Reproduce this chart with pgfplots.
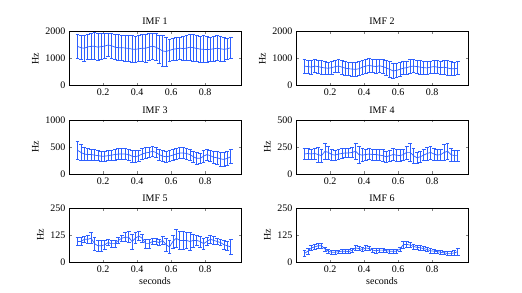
\documentclass[border=0pt]{standalone}
\usepackage{fontspec}
\setmainfont{Liberation Serif}
\usepackage{pgfplots}
\usepackage{pgfplotstable}
\pgfplotsset{compat=1.18}
\definecolor{eb}{RGB}{45,95,255}

\pgfplotstableread{
x m e
0.05 1450 430
0.07 1400 450
0.09 1380 480
0.11 1430 480
0.13 1450 470
0.15 1450 500
0.17 1420 500
0.19 1440 480
0.21 1460 460
0.23 1500 430
0.25 1470 450
0.27 1420 470
0.29 1400 480
0.31 1400 460
0.33 1390 480
0.35 1370 480
0.37 1350 500
0.39 1340 480
0.41 1360 480
0.43 1380 500
0.45 1380 520
0.47 1420 500
0.49 1460 480
0.51 1420 500
0.53 1350 520
0.55 1280 560
0.57 1260 540
0.59 1300 420
0.61 1340 420
0.63 1360 430
0.65 1380 420
0.67 1370 450
0.69 1380 460
0.71 1420 480
0.73 1400 500
0.75 1370 480
0.77 1350 480
0.79 1340 500
0.81 1330 480
0.83 1340 460
0.85 1360 450
0.87 1380 460
0.89 1360 450
0.91 1340 430
0.93 1360 400
0.95 1400 380
}\imfA

\pgfplotstableread{
x m e
0.05 720 260
0.07 700 240
0.09 680 260
0.11 720 250
0.13 700 240
0.15 670 250
0.17 650 250
0.19 640 230
0.21 660 240
0.23 700 220
0.25 720 240
0.27 680 260
0.29 640 260
0.31 620 240
0.33 610 260
0.35 600 270
0.37 620 260
0.39 680 250
0.41 720 260
0.43 740 250
0.45 720 250
0.47 700 260
0.49 730 250
0.51 700 260
0.53 650 270
0.55 600 280
0.57 540 290
0.59 560 270
0.61 600 250
0.63 640 240
0.65 660 250
0.67 700 260
0.69 720 250
0.71 700 240
0.73 680 250
0.75 660 240
0.77 650 230
0.79 680 230
0.81 700 240
0.83 680 240
0.85 660 250
0.87 680 260
0.89 650 270
0.91 620 260
0.93 620 250
0.95 640 240
}\imfB

\pgfplotstableread{
x m e
0.05 440 170
0.07 400 150
0.09 370 120
0.11 360 110
0.13 360 100
0.15 350 100
0.17 340 90
0.19 330 90
0.21 330 90
0.23 340 90
0.25 350 90
0.27 360 100
0.29 370 100
0.31 370 100
0.33 370 100
0.35 360 100
0.37 330 110
0.39 320 110
0.41 340 100
0.43 370 100
0.45 390 100
0.47 400 100
0.49 420 100
0.51 400 100
0.53 360 100
0.55 330 100
0.57 320 100
0.59 330 100
0.61 350 100
0.63 370 100
0.65 390 100
0.67 390 100
0.69 380 100
0.71 360 100
0.73 320 100
0.75 290 110
0.77 290 100
0.79 330 110
0.81 360 100
0.83 340 100
0.85 310 110
0.87 300 120
0.89 280 130
0.91 270 130
0.93 290 130
0.95 320 130
}\imfC

\pgfplotstableread{
x m e
0.05 185 50
0.07 190 50
0.09 185 45
0.11 190 50
0.13 180 70
0.15 170 60
0.17 210 70
0.19 200 60
0.21 180 50
0.23 175 45
0.25 185 45
0.27 190 45
0.29 195 45
0.31 195 40
0.33 200 50
0.35 210 70
0.37 180 80
0.39 175 60
0.41 180 50
0.43 185 50
0.45 180 50
0.47 180 50
0.49 175 50
0.51 170 55
0.53 160 50
0.55 170 50
0.57 180 55
0.59 175 55
0.61 170 55
0.63 180 50
0.65 200 60
0.67 200 80
0.69 170 70
0.71 150 50
0.73 160 50
0.75 175 50
0.77 190 60
0.79 200 60
0.81 185 55
0.83 175 50
0.85 180 50
0.87 200 70
0.89 210 70
0.91 180 60
0.93 170 50
0.95 170 50
}\imfD

\pgfplotstableread{
x m e
0.05 95 20
0.07 95 20
0.09 105 15
0.11 105 20
0.13 110 25
0.15 85 30
0.17 75 25
0.19 75 25
0.21 80 20
0.23 90 15
0.25 85 15
0.27 85 15
0.29 100 15
0.31 110 15
0.33 115 20
0.35 115 25
0.37 95 35
0.39 110 25
0.41 120 20
0.43 110 20
0.45 85 20
0.47 85 20
0.49 95 15
0.51 95 15
0.53 90 15
0.55 100 20
0.57 80 30
0.59 70 30
0.61 95 30
0.63 110 40
0.65 100 40
0.67 100 40
0.69 100 35
0.71 95 40
0.73 100 30
0.75 100 25
0.77 95 25
0.79 85 25
0.81 95 20
0.83 105 20
0.85 100 20
0.87 95 15
0.89 90 15
0.91 80 20
0.93 75 20
0.95 70 35
}\imfE

\pgfplotstableread{
x m e
0.05 40 12
0.07 50 15
0.09 65 12
0.11 70 10
0.13 75 12
0.15 75 10
0.17 60 10
0.19 50 10
0.21 45 8
0.23 45 8
0.25 48 8
0.27 50 8
0.29 50 8
0.31 48 10
0.33 55 10
0.35 65 12
0.37 62 10
0.39 58 10
0.41 65 12
0.43 62 10
0.45 55 10
0.47 52 10
0.49 55 10
0.51 55 10
0.53 52 8
0.55 50 8
0.57 50 8
0.59 50 8
0.61 60 10
0.63 80 15
0.65 82 12
0.67 78 12
0.69 72 12
0.71 68 10
0.73 66 10
0.75 62 10
0.77 58 10
0.79 52 10
0.81 50 8
0.83 48 8
0.85 45 8
0.87 42 8
0.89 40 8
0.91 40 8
0.93 42 10
0.95 48 15
}\imfF

\pgfplotsset{
  imf/.style={
    scale only axis, width=172pt, height=54pt,
    anchor=south west,
    xmin=0, xmax=1.01, ymin=0,
    xtick={0.2,0.4,0.6,0.8},
    tick align=inside, major tick length=2.5pt,
    xtick pos=both, ytick pos=both,
    font=\fontsize{10}{11}\selectfont,
    ylabel={Hz},
    title style={yshift=-3pt},
    xlabel style={yshift=2pt},
    axis line style={line width=0.5pt},
    /pgf/number format/assume math mode=true,
    /pgf/number format/fixed,
    /pgf/number format/1000 sep={},
    scaled y ticks=false,
  },
  ser/.style={eb, line width=0.7pt, mark=none,
    error bars/.cd, y dir=both, y explicit,
    error bar style={eb, line width=0.7pt},
    error mark options={rotate=90, mark size=1.9pt, eb, line width=0.7pt}},
}

\begin{document}
\begin{tikzpicture}[x=1pt,y=1pt]
\useasboundingbox (0,0) rectangle (522,292);
\begin{axis}[imf, at={(69pt,206.5pt)}, title={IMF 1}, ymax=2000, ytick={0,1000,2000}]
\addplot[ser] table[x=x,y=m,y error=e]{\imfA};
\end{axis}
\begin{axis}[imf, at={(296pt,206.5pt)}, title={IMF 2}, ymax=2000, ytick={0,1000,2000}]
\addplot[ser] table[x=x,y=m,y error=e]{\imfB};
\end{axis}
\begin{axis}[imf, at={(69pt,118pt)}, title={IMF 3}, ymax=1000, ytick={0,500,1000}]
\addplot[ser] table[x=x,y=m,y error=e]{\imfC};
\end{axis}
\begin{axis}[imf, at={(296pt,118pt)}, title={IMF 4}, ymax=500, ytick={0,250,500}]
\addplot[ser] table[x=x,y=m,y error=e]{\imfD};
\end{axis}
\begin{axis}[imf, at={(69pt,30pt)}, title={IMF 5}, ymax=250, ytick={0,125,250}, xlabel={seconds}]
\addplot[ser] table[x=x,y=m,y error=e]{\imfE};
\end{axis}
\begin{axis}[imf, at={(296pt,30pt)}, title={IMF 6}, ymax=250, ytick={0,125,250}, xlabel={seconds}]
\addplot[ser] table[x=x,y=m,y error=e]{\imfF};
\end{axis}
\end{tikzpicture}
\end{document}
